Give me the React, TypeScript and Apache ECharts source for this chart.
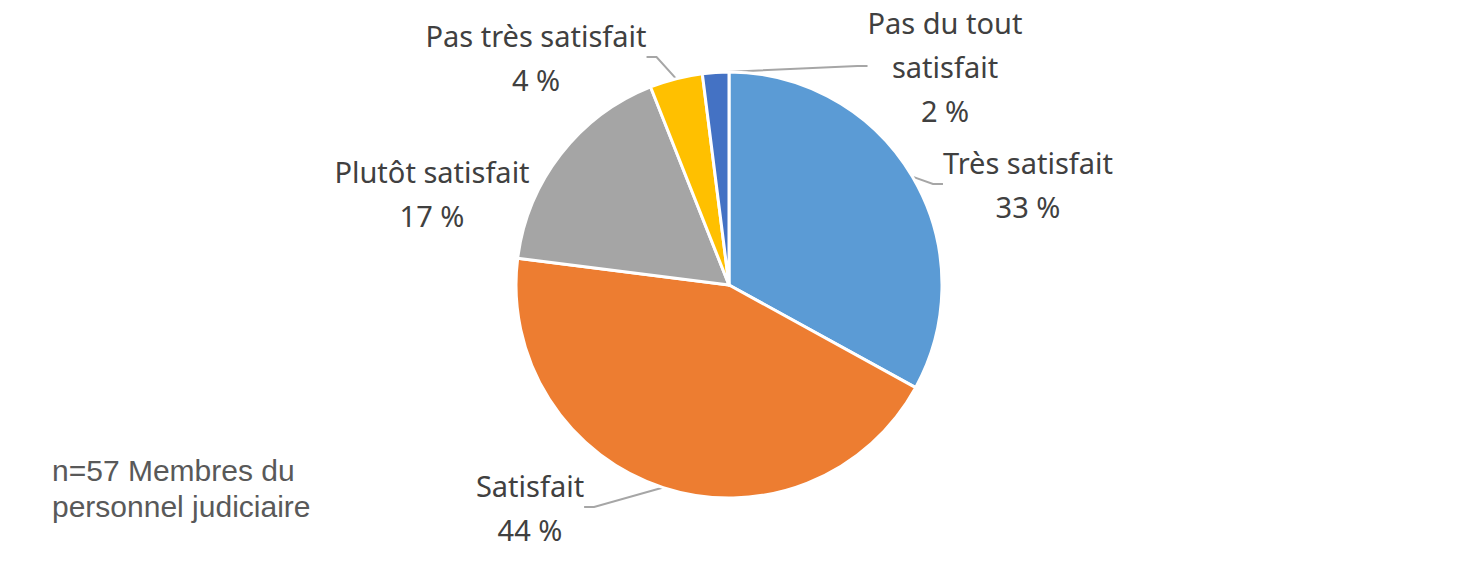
import { useEffect, useRef } from "react";
import * as echarts from "echarts";

const categories = [
  "Très satisfait",
  "Satisfait",
  "Plutôt satisfait",
  "Pas très satisfait",
  "Pas du tout satisfait",
];
const percents = [33, 44, 17, 4, 2];
const colors = ["#5B9BD5", "#ED7D31", "#A5A5A5", "#FFC000", "#4472C4"];
const note = "n=57 Membres du\npersonnel judiciaire";

// label block centres, in the same order as the categories
const labelPos: [number, number][] = [
  [1028, 184],
  [530, 507],
  [432, 193],
  [536, 57],
  [945, 66],
];

export default function App() {
  const chartRef = useRef<HTMLDivElement>(null);

  useEffect(() => {
    if (!chartRef.current) return;
    const chart = echarts.init(chartRef.current, null, { renderer: "svg" });

    chart.setOption({
      animation: false,
      backgroundColor: "#ffffff",
      graphic: [
        {
          type: "text",
          left: 52,
          top: 452,
          style: {
            text: note,
            font: '30px "Liberation Sans", Arial, sans-serif',
            fill: "#595959",
            lineHeight: 36,
          },
        },
      ],
      series: [
        {
          type: "pie",
          center: [729, 285],
          radius: 213,
          startAngle: 90,
          clockwise: true,
          data: categories.map((name, i) => ({
            name,
            value: percents[i],
            itemStyle: { color: colors[i] },
            // Excel draws no leader for the label sitting next to its slice
            labelLine: i === 2 ? { show: false } : undefined,
          })),
          itemStyle: { borderColor: "#ffffff", borderWidth: 3 },
          label: {
            show: true,
            position: "outside",
            color: "#404040",
            fontSize: 29,
            lineHeight: 44,
            fontFamily: '"Noto Sans", sans-serif',
            formatter: (p: any) =>
              `${p.name.replace("Pas du tout ", "Pas du tout\n")}\n${p.value} %`,
          },
          labelLine: {
            show: true,
            length: 10,
            length2: 10,
            lineStyle: { color: "#A6A6A6", width: 2 },
          },
          labelLayout: (p: any) => {
            const pos = labelPos[p.dataIndex];
            return {
              x: pos[0],
              y: pos[1],
              align: "center",
              verticalAlign: "middle",
            };
          },
        },
      ],
    });

    return () => chart.dispose();
  }, []);

  return (
    <div
      ref={chartRef}
      style={{ position: "fixed", left: 0, top: 0, width: 1460, height: 575 }}
    />
  );
}
